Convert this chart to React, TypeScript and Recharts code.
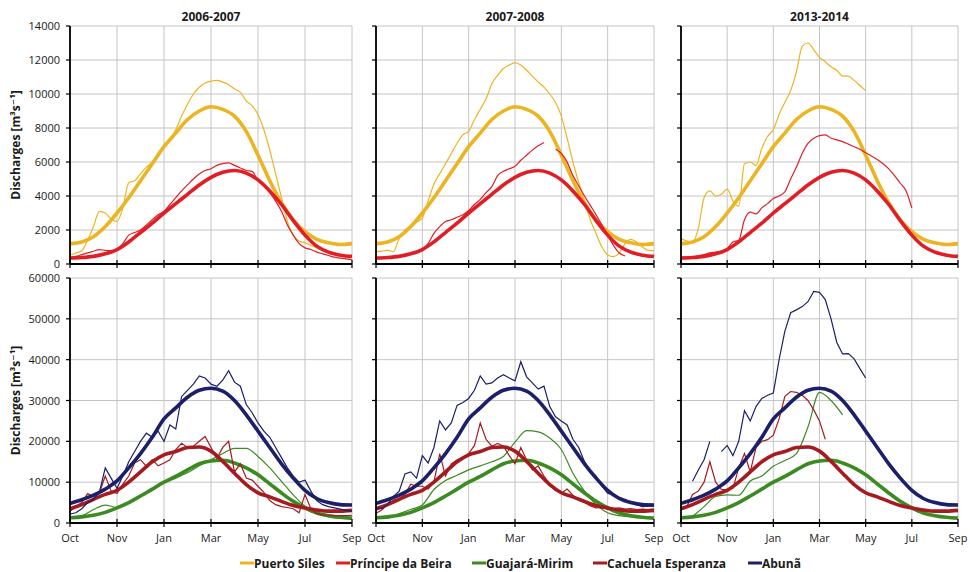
import React from 'react';
import { LineChart, Line, XAxis, YAxis, CartesianGrid } from 'recharts';

// ---------- categories / tick labels ----------
const YEARS = ['2006-2007', '2007-2008', '2013-2014'];
const MONTHS = ['Oct', 'Nov', 'Jan', 'Mar', 'May', 'Jul', 'Sep'];
const X_TICKS = [0, 8, 16, 24, 32, 40, 48];
const TOP_TICKS = [0, 2000, 4000, 6000, 8000, 10000, 12000, 14000];
const BOT_TICKS = [0, 10000, 20000, 30000, 40000, 50000, 60000];
const STATIONS = ['Puerto Siles', 'Príncipe da Beira', 'Guajará-Mirim', 'Cachuela Esperanza', 'Abunã'];

// ---------- mean (thick) curves, sampled every 2 x-units ----------
const PS_MEAN = [1200, 1300, 1600, 2200, 3000, 3900, 4900, 5900, 6900, 7700, 8500, 9000, 9250, 9100, 8700, 7800, 6400, 4900, 3600, 2600, 1900, 1450, 1250, 1150, 1200];
const PB_MEAN = [350, 380, 450, 600, 850, 1300, 1850, 2400, 3000, 3550, 4100, 4650, 5100, 5400, 5500, 5350, 4950, 4300, 3500, 2550, 1700, 1050, 700, 520, 450];
const GM_MEAN = [1300, 1500, 1900, 2600, 3700, 5000, 6600, 8300, 10000, 11400, 13000, 14500, 15200, 15350, 14700, 13500, 11800, 9600, 7350, 5300, 3700, 2450, 1800, 1400, 1200];
const CE_MEAN = [3500, 4500, 5800, 7000, 8000, 10000, 12500, 15000, 16700, 17500, 18500, 18600, 17600, 15100, 12200, 9400, 7400, 6400, 5300, 4300, 3700, 3200, 2900, 2900, 3100];
const AB_MEAN = [4800, 5700, 6800, 8300, 10300, 13500, 17000, 21000, 25500, 28200, 30800, 32500, 33000, 32300, 30000, 26500, 22500, 18500, 14500, 11000, 8000, 6000, 5000, 4500, 4400];

// ---------- yearly (thin) curves ----------
const N = null;
// step 1
const PS_0607 = [530, 650, 780, 1400, 2200, 3100, 3000, 2650, 2500, 3300, 4800, 4900, 5300, 5700, 6000, 6500, 6900, 7300, 7900, 8700, 9400, 10000, 10400, 10650, 10750, 10800, 10700, 10550, 10300, 10100, 9600, 9300, 8800, 7900, 6700, 5300, 3900, 2500, 1700, 1350, 1250, 1100, 950, 800, 700, 600, 550, 500, 480];
const PB_0607 = [400, 450, 550, 650, 750, 850, 800, 780, 850, 1200, 1700, 1850, 2000, 2300, 2600, 2900, 3100, 3500, 3900, 4300, 4650, 5000, 5300, 5500, 5600, 5800, 5900, 5950, 5800, 5650, 5500, 5450, 4900, 4600, 4200, 3700, 3100, 2300, 1700, 1200, 950, 850, 700, 600, 500, 400, 350, 300, 250];
const PS_0708 = [730, 760, 800, 730, 1500, 2000, 2200, 2450, 2700, 3700, 4700, 5300, 5900, 6500, 7100, 7600, 7800, 8500, 9100, 9700, 10600, 11100, 11500, 11700, 11850, 11700, 11400, 11050, 10700, 10400, 10000, 9500, 8700, 7400, 6000, 4800, 3700, 2600, 1800, 1000, 550, 430, 650, 1200, 1450, 1300, 1000, 800, 780];
const PB_0708 = [N, N, N, N, N, N, N, N, 850, 1200, 1800, 2200, 2500, 2600, 2750, 2900, 3150, 3500, 3800, 4200, 4550, 5200, 5450, 5600, 5750, 6100, 6400, 6700, 6950, 7150, N, 6750, 6500, 6000, 5200, 4600, 4000, 3450, 2900, 2300, 1700, 1100, 650, 480, N, N, N, N, N];
const PS_1314 = [1500, 1350, 1300, 2100, 3900, 4300, 4000, 4100, 4400, 3700, 3400, 5900, 6000, 5800, 6800, 7500, 7900, 8800, 9500, 10200, 11300, 12800, 13000, 12600, 12150, 11900, 11600, 11400, 11050, 11050, 10800, 10500, 10200, N, N, N, N, N, N, N, N, N, N, N, N, N, N, N, N];
const PB_1314 = [400, 400, 420, 480, 550, 650, 700, 750, 900, 1300, 1400, 2600, 3050, 2950, 3300, 3550, 3850, 4000, 4250, 5000, 5700, 6500, 7100, 7400, 7550, 7600, 7400, 7300, 7200, 7050, 6900, 6750, 6550, 6350, 6150, 5900, 5600, 5200, 4750, 4300, 3300, N, N, N, N, N, N, N, N];

const AB_0607 = [2200, 2500, 3500, 5000, 5800, 7500, 13500, 11000, 8500, 11500, 15000, 17500, 20000, 22000, 21000, 22500, 20000, 24000, 23000, 31000, 32500, 34000, 36000, 35500, 34000, 33500, 35000, 37300, 34500, 33500, 29000, 27000, 24500, 22500, 21000, 18500, 16000, 13500, 11500, 10000, 10500, 7800, 5500, 4500, 4000, 3700, 3400, 3100, 2900];
const CE_0607 = [2900, 4000, 5000, 7200, 6500, 7300, 11500, 7800, 7200, 9500, 11500, 14700, 15500, 13900, 15500, 14000, 14700, 15500, 18000, 19500, 18500, 18800, 20000, 21200, 18500, 15800, 18500, 20000, 12500, 14500, 11000, 10500, 9000, 7500, 5500, 4500, 4000, 3800, 3500, 2500, 7000, 3500, 2300, 2000, 1900, 1800, 1800, 1800, 1900];
const AB_0708 = [3700, 3500, 4500, 6500, 7800, 12000, 12500, 11000, 16500, 14700, 18500, 25000, 22800, 24500, 28800, 29500, 30500, 32500, 36000, 34000, 34300, 35500, 36300, 35500, 34800, 39500, 35800, 34300, 32800, 33500, 28500, 26000, 25000, 24000, 20500, 18500, 15000, 12800, 11500, 9000, 7300, 6800, 6300, 5800, 5200, 4500, 4000, 4100, 4100];
const CE_0708 = [2400, 3200, 4500, 5600, 6000, 7000, 9500, 9000, 9000, 8300, 10000, 17000, 11500, 14500, 15500, 16000, 17000, 19000, 24500, 20500, 18800, 19500, 18800, 16500, 14500, 18500, 15500, 13000, 14000, 11500, 9500, 8000, 7300, 8300, 6800, 5500, 5000, 4200, 3700, 3800, 3400, 3500, 3700, 3400, 3500, 3300, 3400, 3300, 3400];
const AB_1314 = [N, N, 10200, 13000, 15500, 20000, N, 17500, 19000, 16500, 20000, 27500, 25000, 28500, 30500, 31300, 31800, 40000, 47000, 51500, 52200, 53000, 54200, 56700, 56500, 54700, 50000, 44200, 41400, 41500, 40200, 37800, 35500, N, N, N, N, N, N, N, N, N, N, N, N, N, N, N, N];
const CE_1314 = [3300, 4000, 7000, 7800, 10000, 15000, 10000, 8200, 8200, 8500, 13500, 17000, 12500, 18500, 20000, 20400, 21500, 25500, 31000, 32200, 32000, 31300, 30000, 27700, 25000, 20500, N, N, N, N, N, N, N, N, N, N, N, N, N, N, N, N, N, N, N, N, N, N, N];
// step 2
const GM_0607 = [1500, 1800, 3300, 4400, 3800, 4800, 6500, 8000, 9800, 11000, 12300, 14000, 15500, 17000, 18300, 18300, 16300, 13500, 10200, 6900, 4100, 2450, 1500, 1200, 1000];
const GM_0708 = [1200, 1200, 2300, 3300, 4400, 8200, 10400, 11700, 13000, 14000, 15000, 16300, 19800, 22600, 22300, 20800, 18000, 12200, 7800, 4500, 2500, 1800, 1500, 1300, 1200];
const GM_1314 = [N, 1600, 4000, 6500, 6900, 6800, 10300, 11500, 13900, 15300, 17000, 23500, 32000, 30000, 26500, N, N, N, N, N, N, N, N, N, N];

// ---------- styles ----------
const COLORS = ['#EDB421', '#E11D25', '#3B8B22', '#A51B20', '#1C1F69'];
const FONT = "'Open Sans', 'DejaVu Sans', sans-serif";
const THICK = 3.6;
const THIN = 1.2;

const pts = (arr: (number | null)[], step: number) => arr.map((v, i) => ({ x: i * step, y: v }));

type Series = { data: { x: number; y: number | null }[]; color: string; width: number; smooth: boolean };

const TOP_SERIES: Series[][] = [
  [PS_0607, PB_0607],
  [PS_0708, PB_0708],
  [PS_1314, PB_1314],
].map(([ps, pb]) => [
  { data: pts(PS_MEAN, 2), color: COLORS[0], width: THICK, smooth: true },
  { data: pts(ps, 1), color: COLORS[0], width: THIN, smooth: true },
  { data: pts(PB_MEAN, 2), color: COLORS[1], width: THICK, smooth: true },
  { data: pts(pb, 1), color: COLORS[1], width: THIN, smooth: true },
]);

const BOT_SERIES: Series[][] = [
  [GM_0607, CE_0607, AB_0607],
  [GM_0708, CE_0708, AB_0708],
  [GM_1314, CE_1314, AB_1314],
].map(([gm, ce, ab]) => [
  { data: pts(GM_MEAN, 2), color: COLORS[2], width: THICK, smooth: true },
  { data: pts(gm, 2), color: COLORS[2], width: THIN, smooth: true },
  { data: pts(CE_MEAN, 2), color: COLORS[3], width: THICK, smooth: true },
  { data: pts(ce, 1), color: COLORS[3], width: THIN, smooth: false },
  { data: pts(AB_MEAN, 2), color: COLORS[4], width: THICK, smooth: true },
  { data: pts(ab, 1), color: COLORS[4], width: THIN, smooth: false },
]);

const COLS = [
  { x: 70, w: 282 },
  { x: 376, w: 278 },
  { x: 681, w: 277 },
];
const ROWS = [
  { y: 26, h: 238 },
  { y: 278, h: 245 },
];

const XTick = (props: any) => {
  const { x, y, payload, show } = props;
  const idx = X_TICKS.indexOf(payload.value);
  return (
    <g>
      <line x1={x} x2={x} y1={y - 4} y2={y + 4} stroke="#000" strokeWidth={1.2} />
      {show && (
        <text x={x} y={y + 19} textAnchor="middle" fontSize={11} fontFamily={FONT} fill="#1a1a1a">
          {MONTHS[idx]}
        </text>
      )}
    </g>
  );
};

const YTick = (props: any) => {
  const { x, y, payload, show } = props;
  return (
    <g>
      <line x1={x - 4} x2={x} y1={y} y2={y} stroke="#000" strokeWidth={1.2} />
      {show && (
        <text x={x - 10} y={y + 4} textAnchor="end" fontSize={11} fontFamily={FONT} fill="#1a1a1a">
          {payload.value}
        </text>
      )}
    </g>
  );
};

function Panel(props: {
  left: number; top: number; w: number; h: number;
  yMax: number; yTicks: number[]; showY: boolean; showX: boolean; series: Series[];
}) {
  const { left, top, w, h, yMax, yTicks, showY, showX, series } = props;
  return (
    <div style={{ position: 'absolute', left: left - 70, top: top - 10 }}>
      <LineChart width={w + 80} height={h + 40} margin={{ top: 10, right: 10, bottom: 0, left: 0 }}>
        <CartesianGrid stroke="#c4c4c4" strokeWidth={1} />
        <XAxis
          dataKey="x"
          type="number"
          domain={[0, 48]}
          ticks={X_TICKS}
          interval={0}
          height={30}
          tickLine={false}
          tickSize={0}
          tickMargin={0}
          axisLine={{ stroke: '#000', strokeWidth: 1.8 }}
          tick={<XTick show={showX} />}
        />
        <YAxis
          type="number"
          domain={[0, yMax]}
          ticks={yTicks}
          interval={0}
          width={70}
          tickLine={false}
          tickSize={0}
          tickMargin={0}
          axisLine={{ stroke: '#000', strokeWidth: 1.8 }}
          tick={<YTick show={showY} />}
        />
        {series.map((s, i) => (
          <Line
            key={i}
            data={s.data}
            dataKey="y"
            type={s.smooth ? 'monotone' : 'linear'}
            stroke={s.color}
            strokeWidth={s.width}
            dot={false}
            activeDot={false}
            connectNulls={false}
            isAnimationActive={false}
          />
        ))}
      </LineChart>
    </div>
  );
}

const LEGEND_X = [240, 336, 472, 593, 748];

export default function App() {
  return (
    <div style={{ position: 'absolute', left: 0, top: 0, width: 970, height: 572, background: '#fff', fontFamily: FONT }}>
      {COLS.map((c, ci) => (
        <React.Fragment key={ci}>
          <Panel left={c.x} top={ROWS[0].y} w={c.w} h={ROWS[0].h} yMax={14000} yTicks={TOP_TICKS}
            showY={ci === 0} showX={false} series={TOP_SERIES[ci]} />
          <Panel left={c.x} top={ROWS[1].y} w={c.w} h={ROWS[1].h} yMax={60000} yTicks={BOT_TICKS}
            showY={ci === 0} showX={true} series={BOT_SERIES[ci]} />
        </React.Fragment>
      ))}
      <svg width={970} height={572} style={{ position: 'absolute', left: 0, top: 0, pointerEvents: 'none' }}>
        {COLS.map((c, ci) => (
          <text key={ci} x={c.x + c.w / 2} y={21} textAnchor="middle" fontSize={12} fontWeight="bold" fontFamily={FONT} fill="#1a1a1a">
            {YEARS[ci]}
          </text>
        ))}
        {ROWS.map((r, ri) => (
          <text key={ri} transform={`translate(20, ${r.y + r.h / 2}) rotate(-90)`} textAnchor="middle" fontSize={12} fontWeight="bold" fontFamily={FONT} fill="#1a1a1a">
            Discharges [m³s⁻¹]
          </text>
        ))}
        {STATIONS.map((s, i) => (
          <g key={s}>
            <line x1={LEGEND_X[i]} x2={LEGEND_X[i] + 14} y1={563} y2={563} stroke={COLORS[i]} strokeWidth={3} />
            <text x={LEGEND_X[i] + 14} y={567.5} fontSize={12} fontWeight="bold" fontFamily={FONT} fill="#1a1a1a">
              {s}
            </text>
          </g>
        ))}
      </svg>
    </div>
  );
}
